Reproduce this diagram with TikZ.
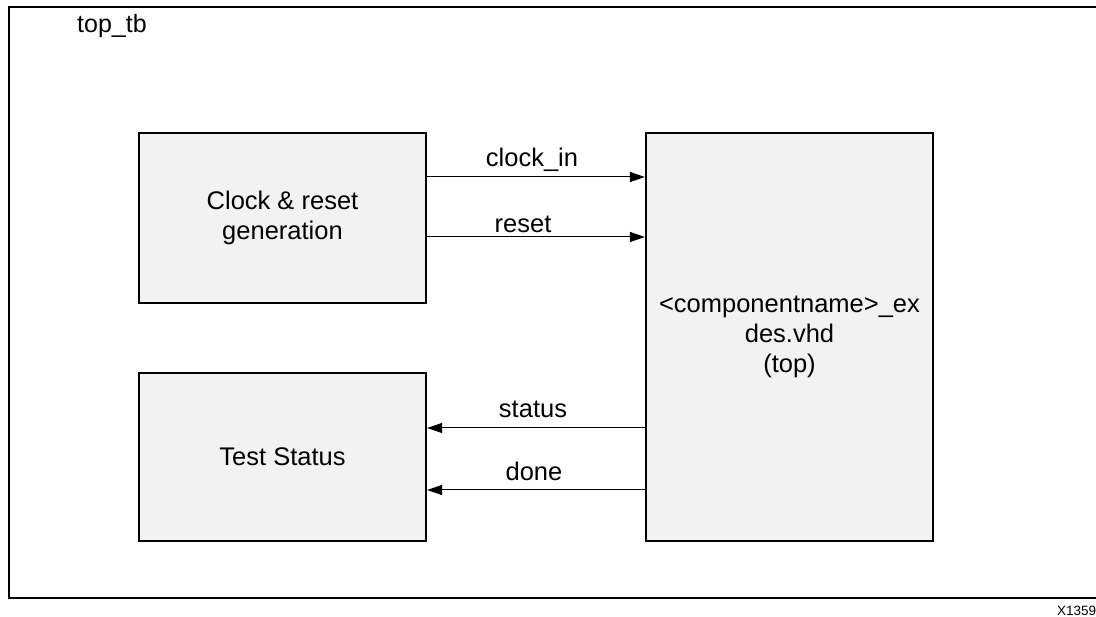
\documentclass[tikz,border=0pt]{standalone}
\usepackage{fontspec}
\setmainfont{Liberation Sans}
\usetikzlibrary{arrows.meta}
\definecolor{boxfill}{HTML}{F2F2F2}
\tikzset{
  blk/.style={draw=black, line width=2.2pt, fill=boxfill, inner sep=0pt, align=center,
    font=\fontsize{25.5}{30}\selectfont},
  sig/.style={draw=black, line width=1pt, -{Triangle[length=15pt,width=10pt]}},
  lbl/.style={font=\fontsize{25.5}{30}\selectfont, anchor=base, inner sep=0pt},
}
\begin{document}
\begin{tikzpicture}[x=1pt,y=-1pt]
\clip (0,0) rectangle (1096,617);
\fill[white] (0,0) rectangle (1096,617);
% outer frame (right side runs off the picture)
\draw[line width=2.2pt] (1120,7) -- (9,7) -- (9,598) -- (1120,598);
\node[lbl, font=\fontsize{25}{30}\selectfont] (tb) at (112,33) {top\_tb};
% blocks
\node[blk, minimum width=287pt, minimum height=170pt] (clk) at (282.5,218) {Clock \& reset\\generation};
\node[blk, minimum width=287pt, minimum height=168pt] (tst) at (282.5,457) {Test Status};
\node[blk, minimum width=287pt, minimum height=408pt] (dut) at (789.5,337) {<componentname>\_ex\\des.vhd\\(top)};
% connectors
\coordinate (c1) at (clk.east |- 0,177);
\coordinate (c2) at (clk.east |- 0,237);
\coordinate (s1) at (dut.west |- 0,428);
\coordinate (s2) at (dut.west |- 0,490);
\draw[sig] (c1) -- (c1 -| dut.west);
\draw[sig] (c2) -- (c2 -| dut.west);
\draw[sig] (s1) -- (s1 -| tst.east);
\draw[sig] (s2) -- (s2 -| tst.east);
% labels
\node[lbl] (lclk) at (532,167) {clock\_in};
\node[lbl] (lrst) at (523,233) {reset};
\node[lbl] (lsts) at (533,418) {status};
\node[lbl] (ldone) at (534,481) {done};
\node[anchor=base west, inner sep=0pt, font=\fontsize{13.5}{16}\selectfont] (fig) at (1057,615) {X13595};
\end{tikzpicture}
\end{document}
